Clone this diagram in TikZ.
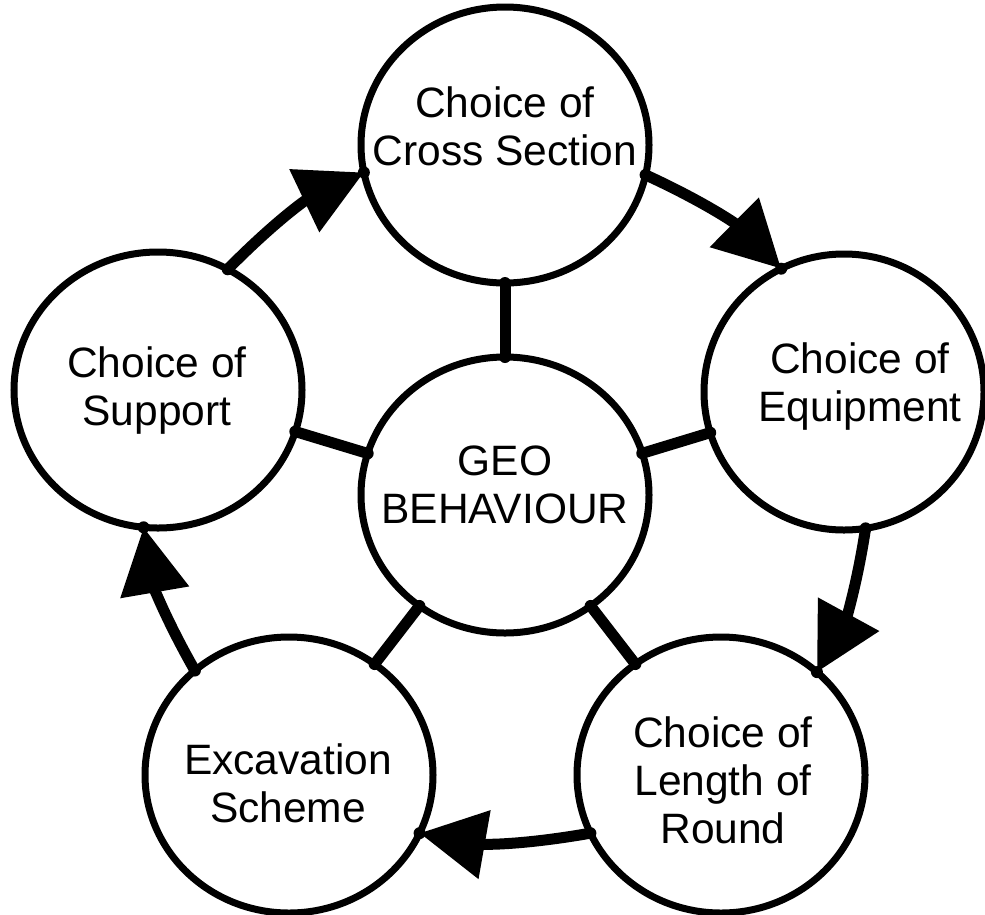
\documentclass[tikz,border=0pt]{standalone}
\usepackage{fontspec}
\setmainfont{Liberation Sans}
\usetikzlibrary{shapes.geometric,arrows.meta}
\begin{document}
\begin{tikzpicture}[x=1pt,y=1pt,
  bubble/.style={draw, ellipse, line width=7pt, minimum width=288pt,
    minimum height=276pt, inner sep=0pt, outer sep=0pt},
  lbl/.style={align=center, inner sep=0pt, anchor=base,
    font=\fontsize{42.5}{48}\selectfont},
  spoke/.style={line width=11pt},
  cyclearrow/.style={line width=11pt, -{Triangle[length=66pt,width=67pt]},
    bend left=10},
  glue/.style={fill=black}
]
\useasboundingbox (0,0) rectangle (985,-914);

% the six bubbles
\node[bubble] (geo) at (505,-495) {};
\node[bubble] (cross) at (505,-145) {};
\node[bubble, minimum width=280pt] (equip) at (844,-392) {};
\node[bubble] (round) at (721,-775) {};
\node[bubble] (excav) at (289,-775) {};
\node[bubble] (support) at (158,-390) {};

% their labels (anchored at the baseline of the last line)
\node[lbl] (tgeo) at (505,-523) {GEO\\BEHAVIOUR};
\node[lbl] (tcross) at (505,-165) {Choice of\\Cross Section};
\node[lbl] (tequip) at (860,-421) {Choice of\\Equipment};
\node[lbl] (tround) at (723,-843) {Choice of\\Length of\\Round};
\node[lbl] (texcav) at (288,-822) {Excavation\\Scheme};
\node[lbl] (tsupport) at (157,-425) {Choice of\\Support};

% spokes from the centre bubble
\foreach \n in {cross,equip,round,excav,support}{
  \draw[spoke] (geo) -- (\n) coordinate[pos=0] (a-\n) coordinate[pos=1] (b-\n);
  \fill[glue] (a-\n) circle (6pt);
  \fill[glue] (b-\n) circle (6pt);
}

% the outer cycle
\draw[cyclearrow] (support.60) to (cross.191.5);
\draw[cyclearrow] (cross.348.5) to (equip.117);
\draw[cyclearrow] (equip.279.4) to (round.47.3);
\draw[cyclearrow] (round.204) to (excav.336.5);
\draw[cyclearrow] (excav.132.7) to (support.264.5);
\foreach \p in {support.60,cross.191.5,cross.348.5,equip.117,equip.279.4,
  round.47.3,round.204,excav.336.5,excav.132.7,support.264.5}{
  \fill[glue] (\p) circle (6pt);
}
\end{tikzpicture}
\end{document}
